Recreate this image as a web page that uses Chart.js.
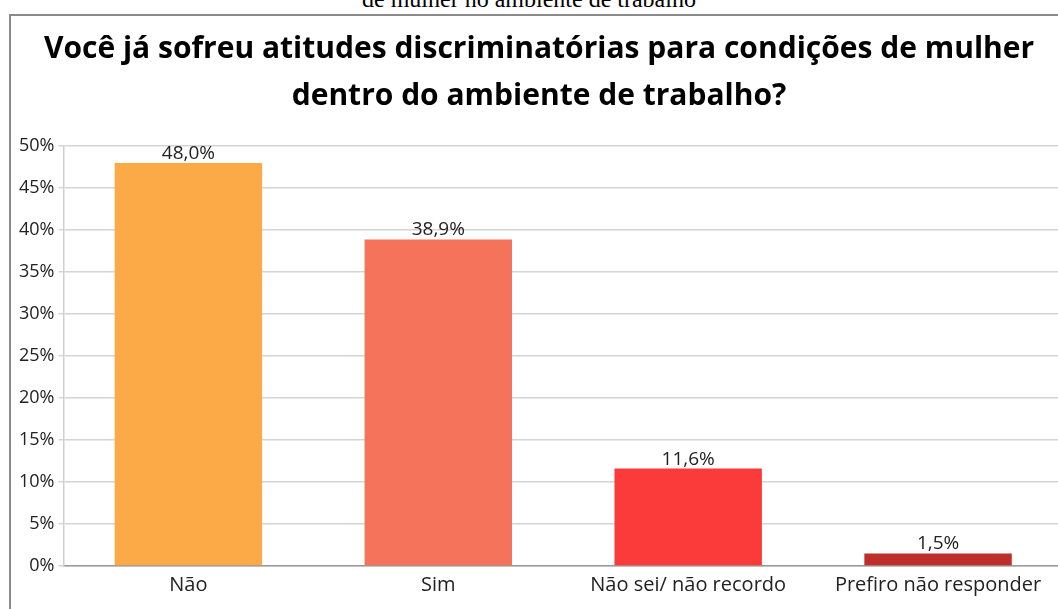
<!DOCTYPE html>
<html>
<head>
<meta charset="utf-8">
<script src="https://cdn.jsdelivr.net/npm/chart.js@4"></script>
<style>
  html, body { margin: 0; padding: 0; width: 1058px; height: 609px; overflow: hidden; background: #fff; }
  #caption {
    position: absolute; left: 0; top: -14px; width: 1058px; text-align: center;
    font-family: "Liberation Serif", "Times New Roman", serif; font-size: 24px; color: #000;
  }
  #frame {
    position: absolute; left: 9px; top: 14px; width: 1060px; height: 600px;
    border-left: 2px solid #8a8a8a; border-top: 2px solid #8a8a8a;
  }
  #chart-wrap { position: absolute; left: 0; top: 0; width: 1052px; height: 594px; }
</style>
</head>
<body>
<div id="caption">de mulher no ambiente de trabalho</div>
<div id="frame">
  <div id="chart-wrap"><canvas id="chart"></canvas></div>
</div>
<script>
const categories = ['Não', 'Sim', 'Não sei/ não recordo', 'Prefiro não responder'];
const percentages = [48.0, 38.9, 11.6, 1.5];
const barColors = ['#fcaa48', '#f5735a', '#fa3b3a', '#be2e2b'];
const titleLines = [
    'Você já sofreu atitudes discriminatórias para condições de mulher',
    'dentro do ambiente de trabalho?'
];

const fmt = v => v.toFixed(1).replace('.', ',') + '%';

// value labels above each bar
const barLabels = {
    id: 'barLabels',
    afterDatasetsDraw(chart) {
        const ctx = chart.ctx;
        const meta = chart.getDatasetMeta(0);
        ctx.save();
        ctx.font = '19px "Open Sans", sans-serif';
        ctx.fillStyle = '#222';
        ctx.textAlign = 'center';
        ctx.textBaseline = 'alphabetic';
        meta.data.forEach((bar, i) => {
            ctx.fillText(fmt(percentages[i]), bar.x, bar.y - 4);
        });
        ctx.restore();
    }
};

new Chart(document.getElementById('chart').getContext('2d'), {
    type: 'bar',
    data: {
        labels: categories,
        datasets: [{
            data: percentages,
            backgroundColor: barColors,
            categoryPercentage: 0.59,
            barPercentage: 1.0
        }]
    },
    options: {
        responsive: true,
        maintainAspectRatio: false,
        animation: false,
        layout: { padding: { left: 4, right: 0, top: 0, bottom: 6 } },
        plugins: {
            legend: { display: false },
            tooltip: { enabled: false },
            title: {
                display: true,
                text: titleLines,
                color: '#000',
                font: { family: '"Open Sans", sans-serif', size: 30, weight: 'bold', lineHeight: 1.57 },
                padding: { top: 10, bottom: 26 }
            }
        },
        scales: {
            x: {
                grid: { display: false, drawTicks: false },
                border: { color: '#999', width: 1.5 },
                ticks: {
                    color: '#222',
                    font: { family: '"Open Sans", sans-serif', size: 20 },
                    padding: 7,
                    maxRotation: 0
                }
            },
            y: {
                min: 0,
                max: 50,
                ticks: {
                    stepSize: 5,
                    color: '#222',
                    font: { family: '"Open Sans", sans-serif', size: 18 },
                    padding: 4,
                    callback: v => v + '%'
                },
                grid: { color: '#d4d4d4', lineWidth: 1.5, tickLength: 5 },
                border: { color: '#cfcfcf', width: 1.5 }
            }
        }
    },
    plugins: [barLabels]
});
</script>
</body>
</html>
